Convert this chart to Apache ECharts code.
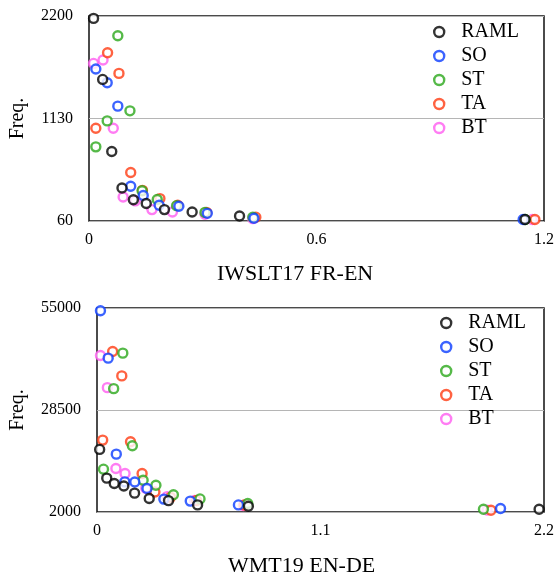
<!DOCTYPE html>
<html><head><meta charset="utf-8">
<script src="https://cdn.jsdelivr.net/npm/echarts@6/dist/echarts.min.js"></script>
<style>html,body{margin:0;padding:0;background:#fff}#c{width:557px;height:575px}</style>
</head><body><div id="c"></div>
<script>
// Series names (legend order) and colors
const seriesNames = ['RAML', 'SO', 'ST', 'TA', 'BT'];
const seriesColors = { RAML: '#000000', SO: '#0a3cff', ST: '#2aa81a', TA: '#ff3b12', BT: '#ff5cf0' };

// Chart 1: IWSLT17 FR-EN
const topTitle = 'IWSLT17 FR-EN';
const topXTicks = [0, 0.6, 1.2];
const topYTicks = [60, 1130, 2200];
const top_RAML = [[0.012,2175],[0.036,1538],[0.060,785],[0.087,405],[0.117,282],[0.151,242],[0.199,179],[0.272,154],[0.397,112],[1.150,75]];
const top_SO   = [[0.018,1646],[0.048,1503],[0.076,1259],[0.110,423],[0.143,326],[0.185,224],[0.237,214],[0.312,140],[0.435,88],[1.145,75]];
const top_ST   = [[0.018,834],[0.048,1105],[0.076,1994],[0.108,1210],[0.140,375],[0.180,284],[0.231,220],[0.306,150],[0.432,100],[1.150,75]];
const top_TA   = [[0.018,1029],[0.049,1816],[0.079,1601],[0.110,566],[0.141,380],[0.187,294],[0.234,225],[0.310,150],[0.440,100],[1.176,75]];
const top_BT   = [[0.012,1705],[0.037,1740],[0.064,1029],[0.090,311],[0.122,270],[0.166,179],[0.220,154],[0.306,130],[0.432,85],[1.169,75]];

// Chart 2: WMT19 EN-DE
const botTitle = 'WMT19 EN-DE';
const botXTicks = [0, 1.1, 2.2];
const botYTicks = [2000, 28500, 55000];
const bot_RAML = [[0.013,18260],[0.048,10800],[0.085,9400],[0.132,8750],[0.185,6900],[0.257,5490],[0.352,4950],[0.495,3850],[0.745,3490],[2.176,2700]];
const bot_SO   = [[0.017,54290],[0.055,41970],[0.095,17030],[0.137,9820],[0.186,9780],[0.246,8100],[0.329,5350],[0.459,4830],[0.696,3840],[1.986,2890]];
const bot_ST   = [[0.032,13130],[0.082,34050],[0.127,43270],[0.174,19200],[0.227,10260],[0.290,8960],[0.376,6500],[0.507,5400],[0.742,4190],[1.902,2700]];
const bot_TA   = [[0.028,20680],[0.077,43690],[0.122,37360],[0.165,20240],[0.222,12000],[0.285,7200],[0.362,5800],[0.490,5000],[0.725,3800],[1.939,2440]];
const bot_BT   = [[0.017,42650],[0.051,34310],[0.093,13300],[0.138,12000],[0.240,8200],[0.345,6000],[0.480,5000],[0.720,3700],[1.920,2500]];

const topData = { RAML: top_RAML, SO: top_SO, ST: top_ST, TA: top_TA, BT: top_BT };
const botData = { RAML: bot_RAML, SO: bot_SO, ST: bot_ST, TA: bot_TA, BT: bot_BT };

const FONT = '"Liberation Serif", "DejaVu Serif", serif';
const drawOrder = ['BT', 'TA', 'ST', 'SO', 'RAML']; // later drawn on top

function xAxisFor(idx, ticks) {
  return {
    type: 'value', gridIndex: idx, min: ticks[0], max: ticks[ticks.length - 1],
    interval: ticks[1] - ticks[0],
    axisLine: { show: false }, axisTick: { show: false }, splitLine: { show: false },
    axisLabel: { fontFamily: FONT, fontSize: 16, color: '#000', margin: 11,
      formatter: v => String(+v.toFixed(2)) }
  };
}
function yAxisFor(idx, ticks, gap) {
  return {
    type: 'value', gridIndex: idx, min: ticks[0], max: ticks[ticks.length - 1],
    name: 'Freq.', nameLocation: 'middle', nameGap: gap,
    nameTextStyle: { fontFamily: FONT, fontSize: 20, color: '#000' },
    axisLine: { show: false },
    axisTick: { show: false, customValues: ticks },
    axisLabel: { fontFamily: FONT, fontSize: 16, color: '#000', margin: 16, customValues: ticks,
      formatter: v => String(Math.round(v)) },
    splitLine: { show: true, lineStyle: { color: '#b5b5b5', width: 1 } }
  };
}
const series = [];
[[topData, 0], [botData, 1]].forEach(([d, idx]) => {
  drawOrder.forEach(n => {
    series.push({
      name: n, type: 'scatter', xAxisIndex: idx, yAxisIndex: idx,
      symbol: 'circle', symbolSize: 9,
      itemStyle: { color: '#fff', borderColor: seriesColors[n], borderWidth: 2.4 },
      data: d[n]
    });
  });
});
function legendFor(left, top) {
  return {
    orient: 'vertical', left: left, top: top, padding: 0,
    itemWidth: 10, itemHeight: 10, itemGap: 4,
    data: seriesNames.map(n => ({ name: n, icon: 'circle',
      itemStyle: { color: '#fff', borderColor: seriesColors[n], borderWidth: 2.4 } })),
    textStyle: { fontFamily: FONT, fontSize: 20, color: '#000', lineHeight: 20, padding: [0, 0, 0, 12] },
    selectedMode: false
  };
}
const chart = echarts.init(document.getElementById('c'), null, { renderer: 'canvas' });
chart.setOption({
  backgroundColor: '#fff',
  animation: false,
  title: [
    { text: topTitle, left: 217, top: 263, padding: 0,
      textStyle: { fontFamily: FONT, fontSize: 22, fontWeight: 'normal', color: '#000' } },
    { text: botTitle, left: 228, top: 555, padding: 0,
      textStyle: { fontFamily: FONT, fontSize: 22, fontWeight: 'normal', color: '#000' } }
  ],
  legend: [legendFor(433, 22), legendFor(440, 313)],
  grid: [
    { left: 88, top: 16, width: 457, height: 205, show: true, borderColor: '#111', borderWidth: 1.5, backgroundColor: 'transparent' },
    { left: 96, top: 308, width: 456, height: 204, show: true, borderColor: '#111', borderWidth: 1.5, backgroundColor: 'transparent' }
  ],
  xAxis: [xAxisFor(0, topXTicks), xAxisFor(1, botXTicks)],
  yAxis: [yAxisFor(0, topYTicks, 61), yAxisFor(1, botYTicks, 69)],
  series: series
});
</script></body></html>
